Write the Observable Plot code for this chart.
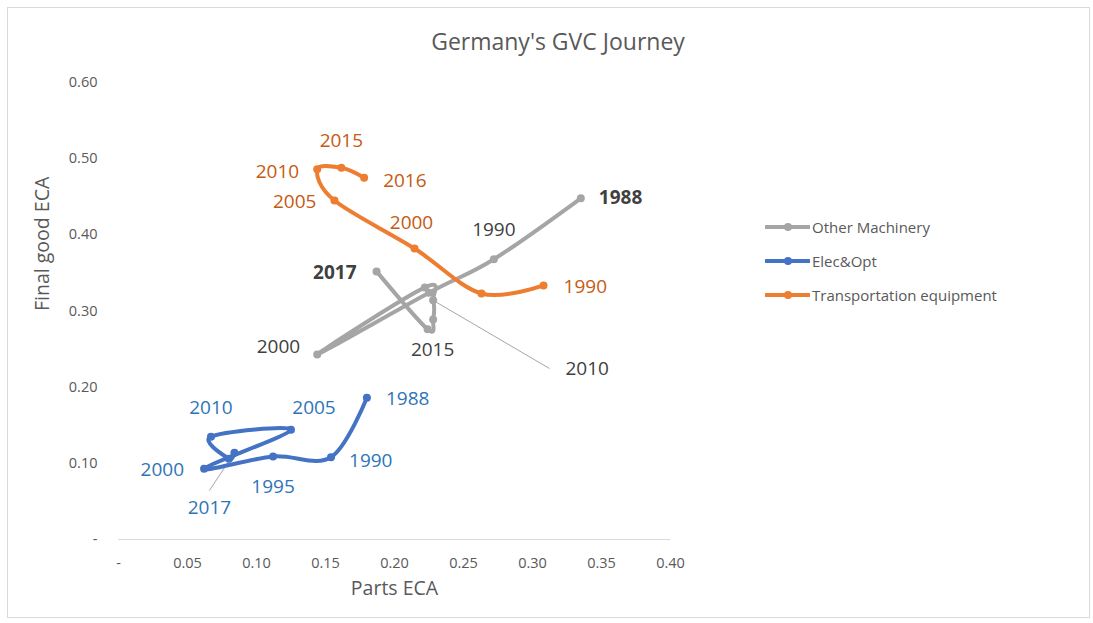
<!DOCTYPE html>
<html>
<head>
<meta charset="utf-8">
<script src="https://cdn.jsdelivr.net/npm/d3@7"></script>
<script src="https://cdn.jsdelivr.net/npm/@observablehq/plot@0.6"></script>
<style>
  html, body { margin: 0; padding: 0; background: #fff; }
  #wrap { position: relative; width: 1093px; height: 623px; font-family: "Open Sans", sans-serif; }
  #title { position: absolute; left: 0; width: 1116px; top: 25px; text-align: center; font-size: 23px; color: #595959; }
  #legend { position: absolute; left: 765px; top: 210px; font-size: 15px; color: #595959; }
  .li { display: flex; align-items: center; height: 34px; }
  .li svg { margin-right: 2px; }
  #frame { position: absolute; left: 7px; top: 7px; width: 1081px; height: 609px; border: 1px solid #d9d9d9; pointer-events: none; }
</style>
</head>
<body>
<div id="wrap">
  <div id="chart"></div>
  <div id="title">Germany's GVC Journey</div>
  <div id="legend"></div>
  <div id="frame"></div>
</div>
<script>
// ---- data ----
const seriesNames = ["Other Machinery", "Elec&Opt", "Transportation equipment"];
const seriesColors = ["#A5A5A5", "#4472C4", "#ED7D31"];
const labelColors = ["#404040", "#2E75B6", "#C55A11"];

const otherYears = [1988, 1990, 1995, 2000, 2005, 2010, 2012, 2015, 2017];
const otherParts = [0.335, 0.272, 0.225, 0.144, 0.222, 0.228, 0.228, 0.224, 0.187];
const otherFinal = [0.448, 0.368, 0.324, 0.243, 0.331, 0.314, 0.289, 0.276, 0.352];

const elecYears = [1988, 1990, 1995, 2000, 2005, 2010, 2015, 2017];
const elecParts = [0.180, 0.154, 0.112, 0.062, 0.125, 0.067, 0.080, 0.084];
const elecFinal = [0.186, 0.108, 0.109, 0.093, 0.144, 0.135, 0.106, 0.114];

const transYears = [1990, 1995, 2000, 2005, 2010, 2015, 2016];
const transParts = [0.308, 0.263, 0.2145, 0.1565, 0.144, 0.1615, 0.178];
const transFinal = [0.3335, 0.323, 0.382, 0.445, 0.486, 0.488, 0.475];

const xTicks = [0, 0.05, 0.10, 0.15, 0.20, 0.25, 0.30, 0.35, 0.40];
const yTicks = [0, 0.10, 0.20, 0.30, 0.40, 0.50, 0.60];

// ---- annotation placement (label offsets in px, leader line ends in data units) ----
const labelSpecs = [
  {s: 0, year: 1988, anchor: "start", dx: 18, dy: 0, bold: true},
  {s: 0, year: 1990, anchor: "middle", dx: 0, dy: -29},
  {s: 0, year: 2000, anchor: "end", dx: -17, dy: -8},
  {s: 0, year: 2015, anchor: "middle", dx: 5, dy: 21},
  {s: 0, year: 2017, anchor: "end", dx: -20, dy: 2, bold: true},
  {s: 0, year: 2010, anchor: "start", dx: 16, dy: 0, leader: [0.3123, 0.2245]},
  {s: 1, year: 1988, anchor: "start", dx: 19, dy: 1},
  {s: 1, year: 1990, anchor: "start", dx: 18, dy: 4},
  {s: 1, year: 1995, anchor: "middle", dx: 0, dy: 30},
  {s: 1, year: 2000, anchor: "end", dx: -20, dy: 1},
  {s: 1, year: 2005, anchor: "middle", dx: 23, dy: -22},
  {s: 1, year: 2010, anchor: "middle", dx: 0, dy: -29},
  {s: 1, year: 2017, anchor: "middle", dx: 0, dy: 17, leader: [0.0659, 0.0643]},
  {s: 2, year: 2015, anchor: "middle", dx: 0, dy: -27},
  {s: 2, year: 2010, anchor: "end", dx: -18, dy: 3},
  {s: 2, year: 2016, anchor: "start", dx: 19, dy: 3},
  {s: 2, year: 2005, anchor: "end", dx: -18, dy: 1},
  {s: 2, year: 2000, anchor: "middle", dx: -3, dy: -26},
  {s: 2, year: 1990, anchor: "start", dx: 20, dy: 1}
];

const build = (years, xs, ys) => years.map((yr, i) => ({year: yr, x: xs[i], y: ys[i]}));
const series = [
  build(otherYears, otherParts, otherFinal),
  build(elecYears, elecParts, elecFinal),
  build(transYears, transParts, transFinal)
];

const labels = labelSpecs.map(l => {
  const p = series[l.s].find(d => d.year === l.year);
  const at = l.leader ? {x: l.leader[0], y: l.leader[1]} : p;
  return {...l, text: String(l.year), px: p.x, py: p.y, lx: at.x, ly: at.y};
});
const leaders = labels.filter(l => l.leader);

const fmt = d3.format(".2f");
const tickFmt = d => d === 0 ? "-" : fmt(d);

const marks = [
  Plot.ruleY([0], {stroke: "#d9d9d9", strokeWidth: 1}),
  Plot.link(leaders, {x1: "px", y1: "py", x2: "lx", y2: "ly", stroke: "#a6a6a6", strokeWidth: 1})
];
series.forEach((data, i) => {
  marks.push(Plot.line(data, {x: "x", y: "y", stroke: seriesColors[i], strokeWidth: 4, curve: "cardinal", tension: 0, strokeLinejoin: "round", strokeLinecap: "round"}));
  marks.push(Plot.dot(data, {x: "x", y: "y", r: 4, fill: seriesColors[i], stroke: "none"}));
});
labels.forEach(l => {
  marks.push(Plot.text([l], {x: "lx", y: "ly", text: "text", textAnchor: l.anchor, dx: l.dx, dy: l.dy,
    fill: labelColors[l.s], fontSize: 19, fontWeight: l.bold ? "bold" : "normal"}));
});
marks.push(Plot.text(["Parts ECA"], {frameAnchor: "bottom", dy: 55, fontSize: 19.5, fill: "#595959"}));
marks.push(Plot.text(["Final good ECA"], {frameAnchor: "left", dx: -76, rotate: -90, fontSize: 19.5, fill: "#595959"}));

const chart = Plot.plot({
  width: 1093,
  height: 623,
  marginLeft: 118,
  marginRight: 423,
  marginTop: 82,
  marginBottom: 84,
  style: {fontFamily: "'Open Sans', sans-serif", fontSize: "14.5px", color: "#595959", background: "transparent"},
  x: {domain: [0, 0.4], ticks: xTicks, tickFormat: tickFmt, tickSize: 0, tickPadding: 18, label: null},
  y: {domain: [0, 0.6], ticks: yTicks, tickFormat: tickFmt, tickSize: 0, tickPadding: 21, label: null},
  marks
});
document.getElementById("chart").appendChild(chart);

// legend
const legend = document.getElementById("legend");
seriesNames.forEach((name, i) => {
  const row = document.createElement("div");
  row.className = "li";
  row.innerHTML = `<svg width="45" height="10"><line x1="1" y1="5" x2="44" y2="5" stroke="${seriesColors[i]}" stroke-width="4" stroke-linecap="round"/><circle cx="23" cy="5" r="4" fill="${seriesColors[i]}"/></svg><span>${name}</span>`;
  legend.appendChild(row);
});
</script>
</body>
</html>
